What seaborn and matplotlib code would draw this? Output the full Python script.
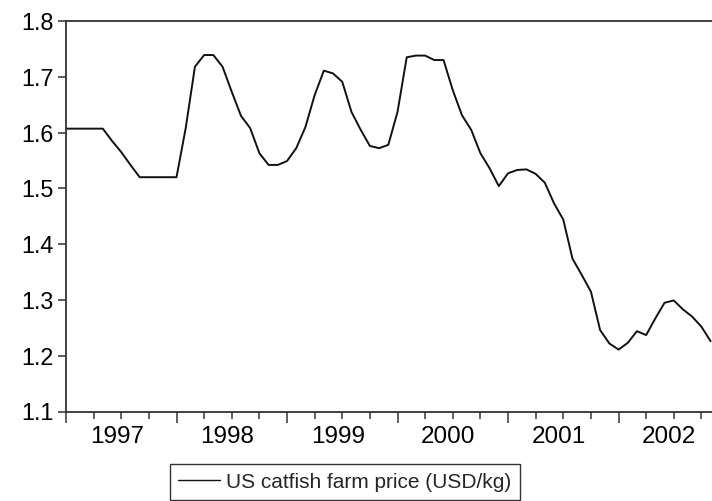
import numpy as np
import pandas as pd
import matplotlib
matplotlib.use("Agg")
import matplotlib.pyplot as plt
import seaborn as sns

# Monthly US catfish farm price, January 1997 onwards (USD/kg)
price = [
    1.607, 1.607, 1.607, 1.607, 1.607, 1.585, 1.565, 1.542, 1.520, 1.520, 1.520, 1.520,  # 1997
    1.520, 1.608, 1.718, 1.739, 1.739, 1.718, 1.673, 1.630, 1.608, 1.563, 1.542, 1.542,  # 1998
    1.549, 1.572, 1.610, 1.667, 1.711, 1.706, 1.691, 1.637, 1.605, 1.576, 1.572, 1.578,  # 1999
    1.637, 1.735, 1.738, 1.738, 1.730, 1.730, 1.676, 1.631, 1.605, 1.563, 1.536, 1.504,  # 2000
    1.527, 1.533, 1.534, 1.526, 1.510, 1.473, 1.444, 1.374, 1.345, 1.315, 1.246, 1.222,  # 2001
    1.211, 1.223, 1.244, 1.237, 1.267, 1.295, 1.299, 1.283, 1.270, 1.252, 1.226,         # 2002
]
years = ["1997", "1998", "1999", "2000", "2001", "2002"]
y_ticks = [1.1, 1.2, 1.3, 1.4, 1.5, 1.6, 1.7, 1.8]
series_label = "US catfish farm price (USD/kg)"

df = pd.DataFrame({"month": np.arange(len(price)), "price": price})

sns.set_theme(style="white")
plt.rcParams["font.family"] = ["Liberation Sans", "DejaVu Sans"]

fig = plt.figure(figsize=(7.12, 5.01), dpi=100)
ax = fig.add_axes([66 / 712, 1 - 411.5 / 501, 1 - 66 / 712, (411.5 - 21) / 501])

sns.lineplot(data=df, x="month", y="price", ax=ax, color="#111111",
             linewidth=1.4, label=series_label, legend=False)

ax.set_xlim(0, 70.15)
ax.set_ylim(1.1, 1.8)
ax.set_xlabel("")
ax.set_ylabel("")

# year boundaries as major ticks, quarters as minor ticks, labels mid-year
ax.set_xticks([12 * k for k in range(len(years))])
ax.set_xticks([3 * k for k in range(24) if k % 4], minor=True)
ax.set_xticklabels([])
for k, yr in enumerate(years):
    ax.text(12 * k + 5.5, -0.038, yr, transform=ax.get_xaxis_transform(),
            ha="center", va="top", fontsize=17.5, color="black")

ax.set_yticks(y_ticks)
ax.set_yticklabels([f"{v:.1f}" for v in y_ticks], fontsize=16.8, color="black")

ax.tick_params(axis="x", which="major", direction="out", length=8, width=1.1,
               color="#333333", bottom=True)
ax.tick_params(axis="x", which="minor", direction="out", length=5, width=1.1,
               color="#333333", bottom=True)
ax.tick_params(axis="y", which="major", direction="out", length=6, width=1.1,
               color="#333333", left=True, pad=3)

for side in ("left", "top", "bottom"):
    ax.spines[side].set_visible(True)
    ax.spines[side].set_color("#333333")
    ax.spines[side].set_linewidth(1.3)
ax.spines["right"].set_visible(False)

handles, labels = ax.get_legend_handles_labels()
leg = fig.legend(handles, labels, loc="center", bbox_to_anchor=(345 / 712, 1 - 482 / 501),
                 frameon=True, fancybox=False, fontsize=15, handlelength=2.0,
                 borderpad=0.4, handletextpad=0.3, borderaxespad=0)
leg.get_frame().set_edgecolor("black")
leg.get_frame().set_linewidth(1.0)
for line in leg.get_lines():
    line.set_linewidth(1.0)

fig.savefig("out.png", dpi=100)
